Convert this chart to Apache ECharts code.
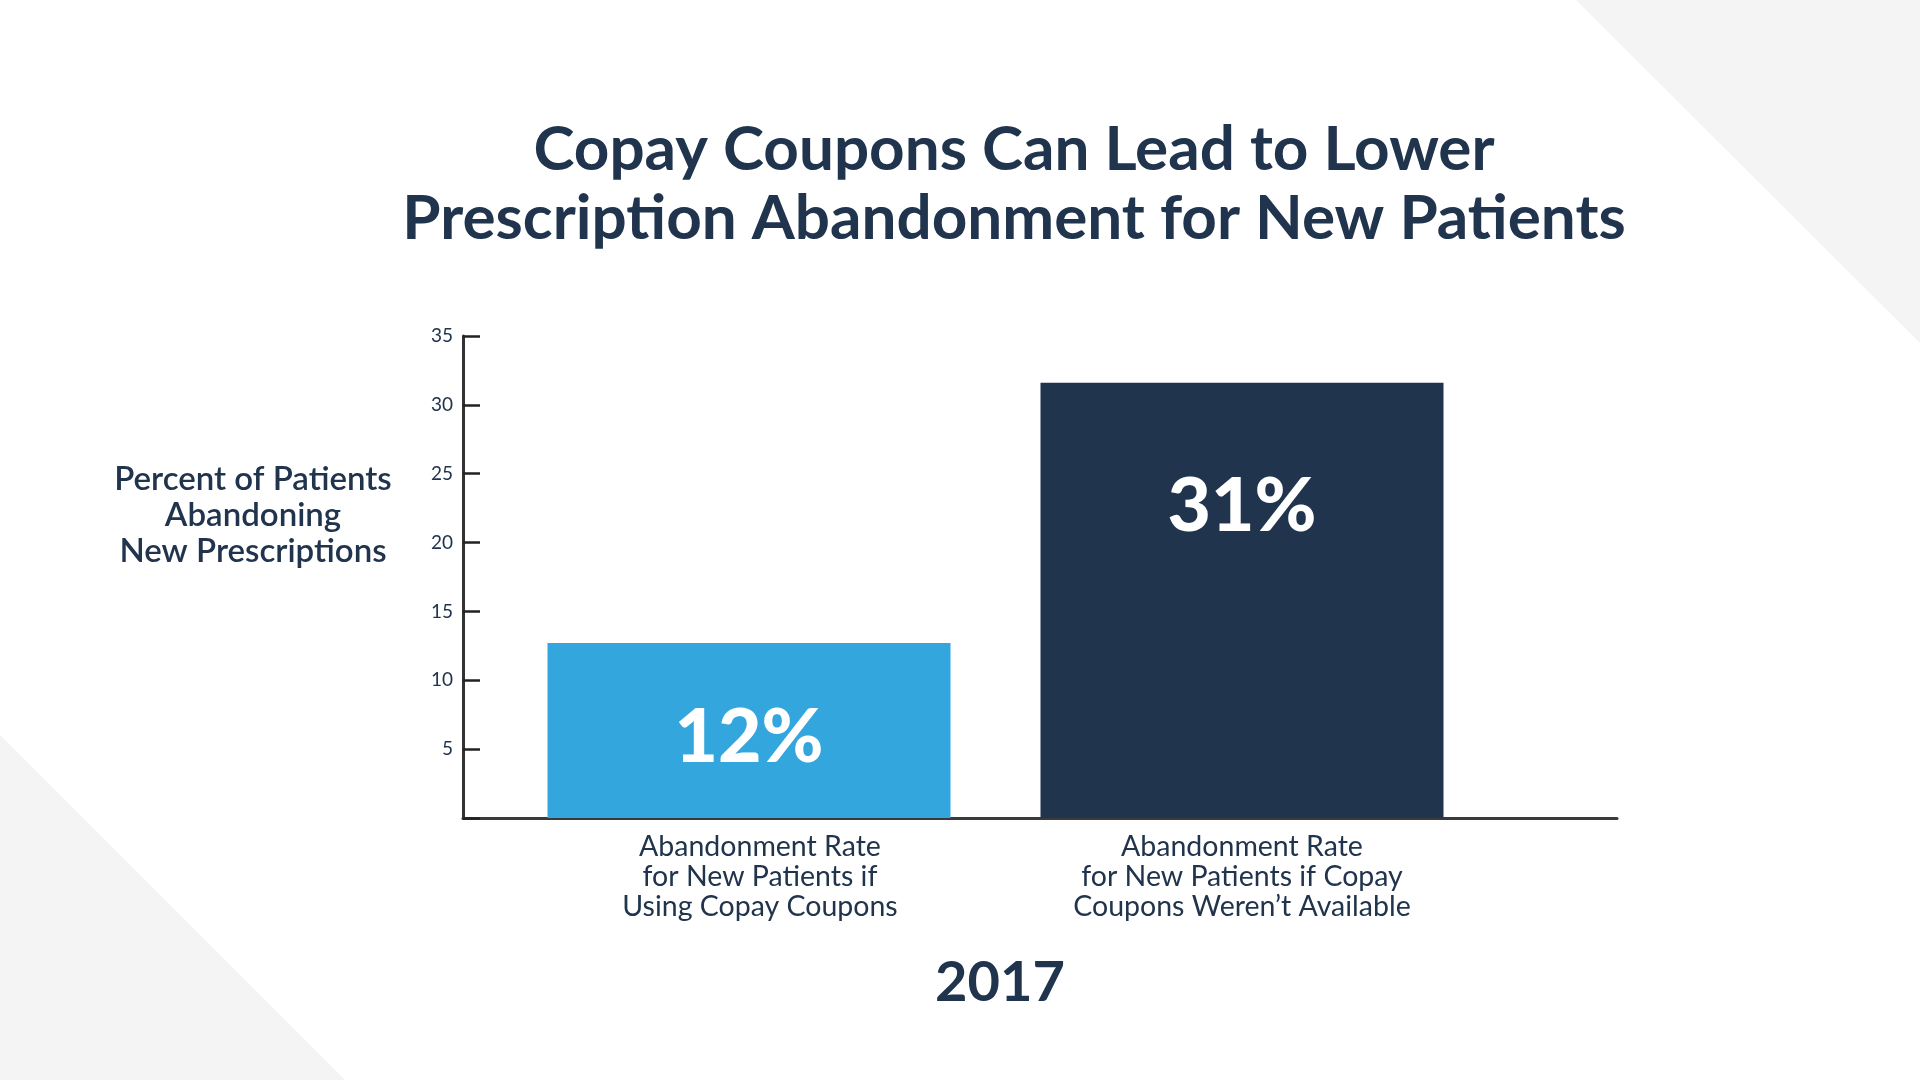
<!DOCTYPE html>
<html>
<head>
<meta charset="utf-8">
<script src="https://cdn.jsdelivr.net/npm/echarts@6/dist/echarts.min.js"></script>
<style>
html,body{margin:0;padding:0;background:#fff;}
#chart{width:1920px;height:1080px;}
</style>
</head>
<body>
<div id="chart"></div>
<script>
// ---- data ----
const titleLines = ['Copay Coupons Can Lead to Lower', 'Prescription Abandonment for New Patients'];
const yNameLines = ['Percent of Patients', 'Abandoning', 'New Prescriptions'];
const categories = [
  'Abandonment Rate\nfor New Patients if\nUsing Copay Coupons',
  'Abandonment Rate\nfor New Patients if Copay\nCoupons Weren\u2019t Available'
];
const values = [12.7, 31.6];
const valueLabels = ['12%', '31%'];
const yearLabel = '2017';
const yMin = 0, yMax = 35, yInterval = 5;

// ---- styles ----
const NAVY = '#21344d';
const barColors = ['#34a6de', '#21344d'];
const labelOffsets = [95, 124];
const catLabelPadLeft = [22, 0];
const FONT = 'Lato';

const chart = echarts.init(document.getElementById('chart'));

const graphics = [
  { type: 'polygon', silent: true, z: -10, shape: { points: [[1576, 0], [1920, 0], [1920, 343]] }, style: { fill: '#f4f4f4' } },
  { type: 'polygon', silent: true, z: -10, shape: { points: [[0, 735], [0, 1080], [345, 1080]] }, style: { fill: '#f4f4f4' } }
];
const titleY = [150, 219];
titleLines.forEach((t, i) => graphics.push({
  type: 'text', silent: true, x: 1014, y: titleY[i],
  style: { text: t, fill: NAVY, fontSize: 62, fontWeight: 'bold', fontFamily: FONT, align: 'center', verticalAlign: 'middle' }
}));
const yNameY = [479, 515, 551];
yNameLines.forEach((t, i) => graphics.push({
  type: 'text', silent: true, x: 253, y: yNameY[i],
  style: { text: t, fill: NAVY, fontSize: 33, fontWeight: 600, fontFamily: FONT, align: 'center', verticalAlign: 'middle' }
}));
graphics.push({
  type: 'text', silent: true, x: 1000, y: 983,
  style: { text: yearLabel, fill: NAVY, fontSize: 56, fontWeight: 'bold', fontFamily: FONT, align: 'center', verticalAlign: 'middle' }
});

const option = {
  backgroundColor: '#ffffff',
  animation: false,
  graphic: graphics,
  grid: [
    { left: 502.5, right: 431.5, top: 336, bottom: 262 },
    { left: 463, right: 303, top: 336, bottom: 262 }
  ],
  xAxis: [
    {
      gridIndex: 0, type: 'category',
      data: categories.map((c, i) => ({ value: c, textStyle: { padding: [0, 0, 0, catLabelPadLeft[i]] } })),
      axisLine: { show: false }, axisTick: { show: false },
      axisLabel: { interval: 0, margin: 14, fontSize: 28.5, lineHeight: 30, color: NAVY, fontFamily: FONT }
    },
    {
      gridIndex: 1, type: 'category', data: [''],
      axisLine: { show: true, lineStyle: { color: '#3a3a3a', width: 3 } },
      axisTick: { show: false }, axisLabel: { show: false }
    }
  ],
  yAxis: [
    { gridIndex: 0, type: 'value', min: yMin, max: yMax, interval: yInterval, show: false },
    {
      gridIndex: 1, type: 'value', min: yMin, max: yMax, interval: yInterval,
      axisLine: { show: true, lineStyle: { color: '#333', width: 3 } },
      axisTick: { show: true, inside: true, length: 17, lineStyle: { color: '#222', width: 2.5 } },
      axisLabel: { formatter: v => (v === 0 ? '' : String(v)), fontSize: 19, color: NAVY, fontFamily: FONT, margin: 10 },
      splitLine: { show: false }
    }
  ],
  series: [{
    type: 'bar', xAxisIndex: 0, yAxisIndex: 0, barWidth: 403, silent: true,
    data: values.map((v, i) => ({
      value: v,
      itemStyle: { color: barColors[i] },
      label: { formatter: valueLabels[i], position: ['50%', labelOffsets[i]] }
    })),
    label: { show: true, color: '#ffffff', fontSize: 75, fontWeight: 900, fontFamily: FONT, align: 'center', verticalAlign: 'middle' }
  }]
};
chart.setOption(option);
</script>
</body>
</html>
